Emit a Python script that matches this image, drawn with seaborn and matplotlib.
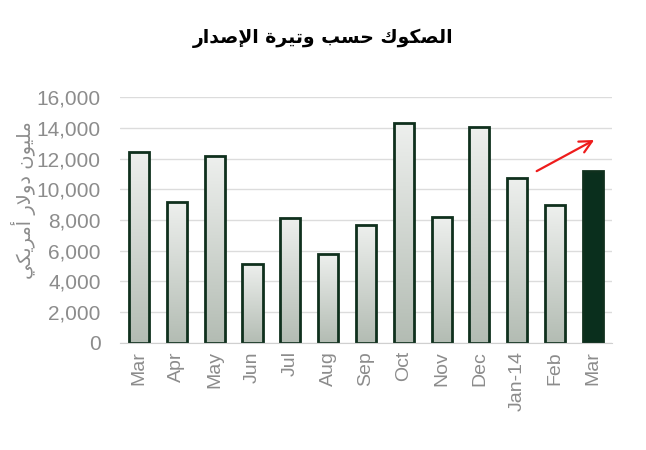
import numpy as np
import pandas as pd
import seaborn as sns
import matplotlib.pyplot as plt

# Sukuk issuance by month (million USD)
months = ['Mar', 'Apr', 'May', 'Jun', 'Jul', 'Aug', 'Sep', 'Oct', 'Nov', 'Dec', 'Jan-14', 'Feb', 'Mar']
values = [12450, 9200, 12200, 5150, 8150, 5800, 7700, 14350, 8220, 14070, 10750, 8980, 11200]
title_text = 'الصكوك حسب وتيرة الإصدار'
ylabel_text = 'مليون دولار أمريكي'
arrow_start = (10.45, 11100)
arrow_end = (12.1, 13300)

# --- minimal Arabic shaping (presentation forms) + visual reordering ---
FORMS = {
    'ا': ('\uFE8D', '\uFE8E', None, None), 'أ': ('\uFE83', '\uFE84', None, None),
    'إ': ('\uFE87', '\uFE88', None, None), 'ب': ('\uFE8F', '\uFE90', '\uFE91', '\uFE92'),
    'ة': ('\uFE93', '\uFE94', None, None), 'ت': ('\uFE95', '\uFE96', '\uFE97', '\uFE98'),
    'ح': ('\uFEA1', '\uFEA2', '\uFEA3', '\uFEA4'), 'د': ('\uFEA9', '\uFEAA', None, None),
    'ر': ('\uFEAD', '\uFEAE', None, None), 'س': ('\uFEB1', '\uFEB2', '\uFEB3', '\uFEB4'),
    'ص': ('\uFEB9', '\uFEBA', '\uFEBB', '\uFEBC'), 'ك': ('\uFED9', '\uFEDA', '\uFEDB', '\uFEDC'),
    'ل': ('\uFEDD', '\uFEDE', '\uFEDF', '\uFEE0'), 'م': ('\uFEE1', '\uFEE2', '\uFEE3', '\uFEE4'),
    'ن': ('\uFEE5', '\uFEE6', '\uFEE7', '\uFEE8'), 'و': ('\uFEED', '\uFEEE', None, None),
    'ي': ('\uFEF1', '\uFEF2', '\uFEF3', '\uFEF4'),
}
LAM_ALEF = {'ا': ('\uFEFB', '\uFEFC'), 'أ': ('\uFEF7', '\uFEF8'), 'إ': ('\uFEF9', '\uFEFA')}


def shape_arabic(text):
    out = []
    chars = list(text)
    i = 0
    while i < len(chars):
        c = chars[i]
        if c not in FORMS:
            out.append(c)
            i += 1
            continue
        prev = chars[i - 1] if i > 0 else None
        joins_prev = prev in FORMS and FORMS[prev][2] is not None
        if c == 'ل' and i + 1 < len(chars) and chars[i + 1] in LAM_ALEF:
            iso, fin = LAM_ALEF[chars[i + 1]]
            out.append(fin if joins_prev else iso)
            i += 2
            continue
        nxt = chars[i + 1] if i + 1 < len(chars) else None
        joins_next = FORMS[c][2] is not None and nxt in FORMS
        iso, fin, ini, med = FORMS[c]
        if joins_prev and joins_next:
            out.append(med)
        elif joins_prev:
            out.append(fin)
        elif joins_next:
            out.append(ini)
        else:
            out.append(iso)
        i += 1
    return ''.join(reversed(out))


df = pd.DataFrame({'key': [f'{m}_{i}' for i, m in enumerate(months)], 'value': values})

sns.set_style('white')
plt.rcParams['font.family'] = ['Liberation Sans', 'DejaVu Sans']

fig = plt.figure(figsize=(6.46, 4.5), dpi=100)
ax = fig.add_axes([0.186, 0.238, 0.761, 0.546])

edge = '#0f301d'
sns.barplot(data=df, x='key', y='value', order=df['key'], color='white',
            edgecolor=edge, linewidth=2.0, width=0.53, ax=ax, zorder=2)

grad = np.linspace(0, 1, 256).reshape(-1, 1)
cmap = sns.blend_palette(['#eef0ee', '#b3bcb3'], as_cmap=True)
for k, patch in enumerate(ax.patches):
    if k == len(ax.patches) - 1:
        patch.set_facecolor('#0a2f1d')
        continue
    x0, y0 = patch.get_x(), patch.get_y()
    w, h = patch.get_width(), patch.get_height()
    im = ax.imshow(grad, extent=[x0, x0 + w, y0, y0 + h], aspect='auto', origin='upper',
                   cmap=cmap, zorder=1.9)
    im.set_clip_path(patch)
    patch.set_facecolor('none')

ax.set_xlim(-0.5, len(months) - 0.5)
ax.set_ylim(0, 16000)
ax.set_yticks(range(0, 16001, 2000))
ax.set_yticklabels([f'{v:,}' for v in range(0, 16001, 2000)])
ax.set_xticks(range(len(months)))
ax.set_xticklabels(months, rotation=90)
ax.tick_params(axis='y', labelsize=15, labelcolor='#8c8c8c', length=0, pad=14)
ax.tick_params(axis='x', labelsize=14, labelcolor='#8c8c8c', length=0, pad=6)
ax.grid(axis='y', color='#dcdcdc', linewidth=1.0)
ax.set_axisbelow(True)
for s in ['top', 'right', 'left']:
    ax.spines[s].set_visible(False)
ax.spines['bottom'].set_color('#d0d0d0')
ax.set_xlabel('')
ax.set_ylabel('')

ax.annotate('', xy=arrow_end, xytext=arrow_start,
            arrowprops=dict(arrowstyle='->', color='#ee1c1c', lw=1.6, mutation_scale=22))

fig.text(0.5, 0.915, shape_arabic(title_text), ha='center', va='center',
         fontsize=13.5, fontweight='bold', color='black', family=['DejaVu Sans'])
fig.text(0.036, 0.555, shape_arabic(ylabel_text), ha='center', va='center', rotation=90,
         fontsize=14, color='#8c8c8c', family=['DejaVu Sans'])

fig.savefig('out.png', dpi=100)
